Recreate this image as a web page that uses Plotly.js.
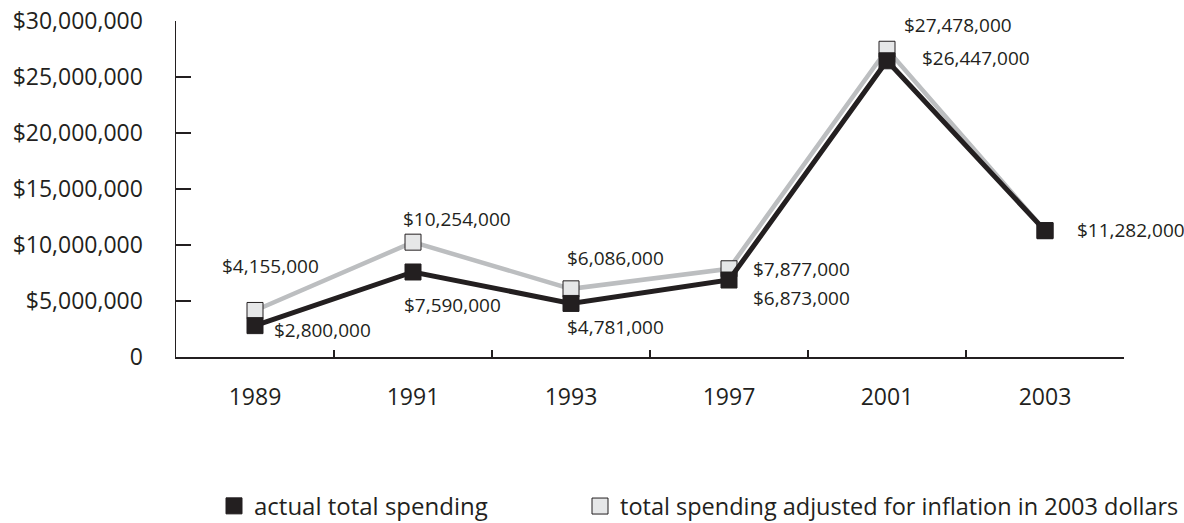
<!DOCTYPE html>
<html>
<head>
<meta charset="utf-8">
<script src="https://cdn.plot.ly/plotly-3.0.1.min.js"></script>
<style>html,body{margin:0;padding:0;background:#fff;}#chart{width:1184px;height:523px;}</style>
</head>
<body>
<div id="chart"></div>
<script>
// ---- data ----
const years = ["1989", "1991", "1993", "1997", "2001", "2003"];
const actualSpending = [2800000, 7590000, 4781000, 6873000, 26447000, 11282000];
const adjustedSpending = [4155000, 10254000, 6086000, 7877000, 27478000, 11282000];
const seriesNames = ["actual total spending", "total spending adjusted for inflation in 2003 dollars"];
const yTickVals = [0, 5000000, 10000000, 15000000, 20000000, 25000000, 30000000];
const yTickText = ["0", "$5,000,000", "$10,000,000", "$15,000,000", "$20,000,000", "$25,000,000", "$30,000,000"];
const adjustedLabelShown = [true, true, true, true, true, false];

// ---- label offsets (pixels, style only) ----
const adjOffsets = [[15, -44], [44, -23], [44, -31], [72, 0], [71, -24], [0, 0]];
const actOffsets = [[67, 4], [39, 33], [44, 24], [72, 18], [89, -3], [86, -1]];

const ink = "#231f20";
const fmt = v => "$" + v.toLocaleString("en-US");

const traces = [
  {
    x: years, y: adjustedSpending, type: "scatter", mode: "lines+markers",
    line: {color: "#bcbec0", width: 4.5},
    marker: {symbol: "square", size: 16, color: "#e6e7e8", line: {color: ink, width: 1}},
    showlegend: false, hoverinfo: "skip"
  },
  {
    x: years, y: actualSpending, type: "scatter", mode: "lines+markers",
    line: {color: ink, width: 5},
    marker: {symbol: "square", size: 16, color: ink, line: {color: ink, width: 1}},
    showlegend: false, hoverinfo: "skip"
  },
  {
    x: [null], y: [null], type: "scatter", mode: "markers", name: seriesNames[0], legend: "legend",
    marker: {symbol: "square", size: 24, color: ink, line: {color: ink, width: 1}}
  },
  {
    x: [null], y: [null], type: "scatter", mode: "markers", name: seriesNames[1], legend: "legend2",
    marker: {symbol: "square", size: 24, color: "#e6e7e8", line: {color: ink, width: 1}}
  }
];

const annotations = [];
years.forEach((yr, i) => {
  if (adjustedLabelShown[i]) {
    annotations.push({x: i, y: adjustedSpending[i], xref: "x", yref: "y", text: fmt(adjustedSpending[i]),
      showarrow: false, xanchor: "center", yanchor: "middle",
      xshift: adjOffsets[i][0], yshift: -adjOffsets[i][1], font: {size: 19, color: ink}});
  }
  annotations.push({x: i, y: actualSpending[i], xref: "x", yref: "y", text: fmt(actualSpending[i]),
    showarrow: false, xanchor: "center", yanchor: "middle",
    xshift: actOffsets[i][0], yshift: -actOffsets[i][1], font: {size: 19, color: ink}});
});

const legendBase = {orientation: "h", xref: "paper", yref: "container", xanchor: "left", y: 0.032, yanchor: "middle",
  bgcolor: "rgba(0,0,0,0)", borderwidth: 0};

const layout = {
  width: 1184, height: 523,
  margin: {l: 176, r: 60, t: 21, b: 166, pad: 0},
  paper_bgcolor: "#fff", plot_bgcolor: "#fff",
  font: {family: "Open Sans, sans-serif", color: ink, size: 23},
  showlegend: true,
  legend: Object.assign({}, legendBase, {x: (214 - 176) / 948, font: {size: 24, color: ink}}),
  legend2: Object.assign({}, legendBase, {x: (582 - 176) / 948, font: {size: 23.5, color: ink}}),
  xaxis: {
    type: "category", categoryorder: "array", categoryarray: years,
    range: [-0.5, 5.5], showgrid: false, zeroline: false,
    showline: true, linecolor: ink, linewidth: 1.5,
    ticks: "inside", ticklen: 7, tickcolor: ink, tickwidth: 1.5, tickson: "boundaries",
    ticklabelstandoff: 19, tickfont: {size: 23, color: ink}, fixedrange: true
  },
  yaxis: {
    range: [0, 30000000], showgrid: false, zeroline: false,
    showline: true, linecolor: ink, linewidth: 1.5,
    ticks: "inside", ticklen: 15, tickcolor: ink, tickwidth: 1.5,
    tickvals: yTickVals, ticktext: yTickText,
    ticklabelstandoff: 27, tickfont: {size: 23, color: ink}, fixedrange: true
  },
  annotations: annotations
};

Plotly.newPlot("chart", traces, layout, {displayModeBar: false, staticPlot: true});
</script>
</body>
</html>
